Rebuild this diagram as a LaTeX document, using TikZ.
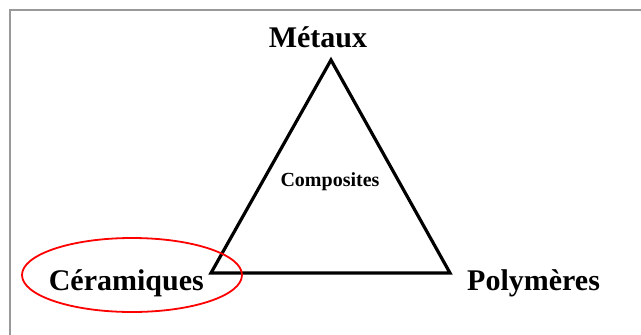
\documentclass[tikz,border=0pt]{standalone}
\usepackage{fontspec}
\setmainfont{Liberation Serif}
\usetikzlibrary{positioning}

\begin{document}
\begin{tikzpicture}[x=1pt,y=-1pt,every node/.style={inner sep=0pt,font=\bfseries\fontsize{30}{36}\selectfont}]
    \useasboundingbox (0,0) rectangle (641,335);
    % Frame
    \draw[gray!80,line width=1.8pt] (10,335) -- (10,10) -- (641,10);
    % Triangle
    \coordinate (apex) at (331,60);
    \coordinate (cornerL) at (211,273);
    \coordinate (cornerR) at (450,273);
    \draw[line width=3.2pt] (apex) -- (cornerL) -- (cornerR) -- cycle;
    % Labels
    \node[anchor=base] (metaux) at (318,47) {Métaux};
    \node[anchor=base east] (ceramiques) at (204,290) {Céramiques};
    \node[anchor=base west] (polymeres) at (467,290) {Polymères};
    \node[anchor=base,font=\bfseries\fontsize{20}{24}\selectfont] (composites) at (330,186) {Composites};
    % Highlight
    \draw[red,line width=1.8pt] (132,275) ellipse (110 and 37);
\end{tikzpicture}
\end{document}
